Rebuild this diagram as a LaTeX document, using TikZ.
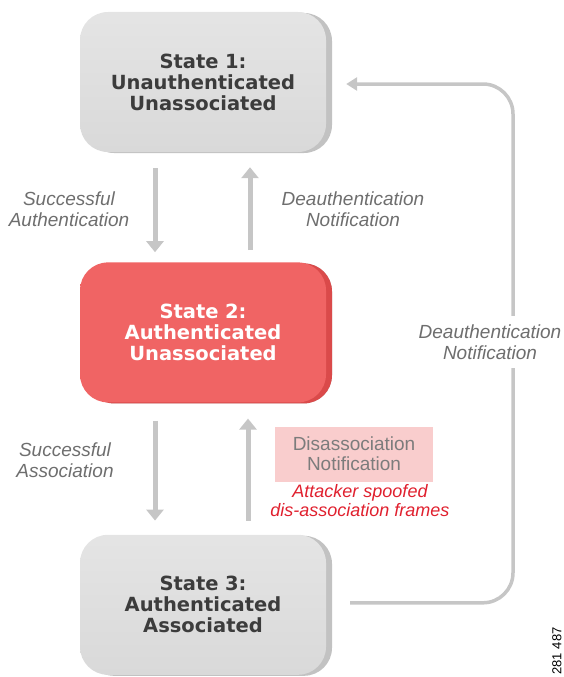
\documentclass[tikz,border=0pt]{standalone}
\usepackage{fontspec}
\setmainfont{Liberation Sans}
\newfontfamily\statefont{DejaVu Sans}
\usepackage{xcolor}
\usetikzlibrary{shapes,arrows.meta,positioning,shadows,calc}

\definecolor{stategray}{HTML}{D9D9D9}
\definecolor{stateedge}{HTML}{C2C2C2}
\definecolor{statetext}{HTML}{3C3C3C}
\definecolor{stated}{HTML}{F06464}
\definecolor{statededge}{HTML}{DA4A4A}
\definecolor{flowgray}{HTML}{C6C6C6}
\definecolor{notegray}{HTML}{6E6E6E}
\definecolor{notepink}{HTML}{F9CDCD}
\definecolor{spoofred}{HTML}{E0202E}

\begin{document}
\begin{tikzpicture}[
        x=1pt, y=-1pt,
        node distance=110pt,
        state/.style={rectangle, rounded corners=28pt, minimum width=246pt, minimum height=140pt, text width=236pt, align=center, font=\statefont\bfseries\fontsize{19.5}{21}\selectfont, text=statetext, top color=stategray!70, bottom color=stategray, drop shadow={shadow xshift=6pt, shadow yshift=-1pt, fill=stateedge, opacity=1}},
        hotstate/.style={state, text=white, top color=stated, bottom color=stated, drop shadow={shadow xshift=6pt, shadow yshift=-1pt, fill=statededge, opacity=1}},
        flow/.style={draw=flowgray, line width=5pt, -{Triangle[width=17pt, length=11pt]}},
        loopline/.style={draw=flowgray, line width=3.5pt, rounded corners=30pt, -{Triangle[width=13pt, length=11pt]}},
        edgetext/.style={align=center, text=notegray, font=\itshape\fontsize{19}{21}\selectfont},
        notebox/.style={rectangle, fill=notepink, minimum width=158pt, minimum height=55pt, align=center, text=notegray!90, font=\fontsize{19}{20}\selectfont},
        spoof/.style={align=center, text=spoofred, inner sep=1pt, font=\itshape\fontsize{18}{19}\selectfont}
    ]
    \useasboundingbox (0,0) rectangle (564,677);

    % States, top to bottom
    \node [state] (s1) at (203,82) {State 1:\\Unauthenticated\\Unassociated};
    \node [hotstate, below=of s1] (s2) {State 2:\\Authenticated\\Unassociated};
    \node [state, below=132pt of s2] (s3) {State 3:\\Authenticated\\Associated};

    % Transitions between 1 and 2
    \path [flow, shorten <=16pt, shorten >=10pt] ([xshift=-48pt]s1.south) -- ([xshift=-48pt]s2.north);
    \path [flow, shorten <=12pt, shorten >=15pt] ([xshift=47pt]s2.north) -- ([xshift=47pt]s1.south);

    % Transitions between 2 and 3
    \path [flow, shorten <=18pt, shorten >=14pt] ([xshift=-48pt]s2.south) -- ([xshift=-48pt]s3.north);
    \path [flow, shorten <=14pt, shorten >=16pt] ([xshift=45pt]s3.north) -- ([xshift=45pt]s2.south);

    % Long way back from 3 to 1
    \coordinate (turn) at (513,0);
    \path [loopline] ([xshift=24pt,yshift=2pt]s3.east) -| ([yshift=-2pt]turn |- s1.east) -- ([xshift=20pt,yshift=-2pt]s1.east);

    % Labels
    \node [edgetext] (auth) at (69,209) {Successful\\Authentication};
    \node [edgetext] (deauth) at (353,209) {Deauthentication\\Notification};
    \node [edgetext] (assoc) at (65,460) {Successful\\Association};
    \node [edgetext, fill=white, inner sep=9pt] (deauthloop) at (490,342) {Deauthentication\\Notification};
    \node [notebox] (disassoc) at (354,454) {Disassociation\\Notification};
    \node [spoof, below=2pt of disassoc, xshift=6pt] (attacker) {Attacker spoofed\\dis-association frames};

    \node [rotate=90, font=\fontsize{13}{13}\selectfont] (figid) at (557,651) {281 487};

    \end{tikzpicture}
\end{document}
